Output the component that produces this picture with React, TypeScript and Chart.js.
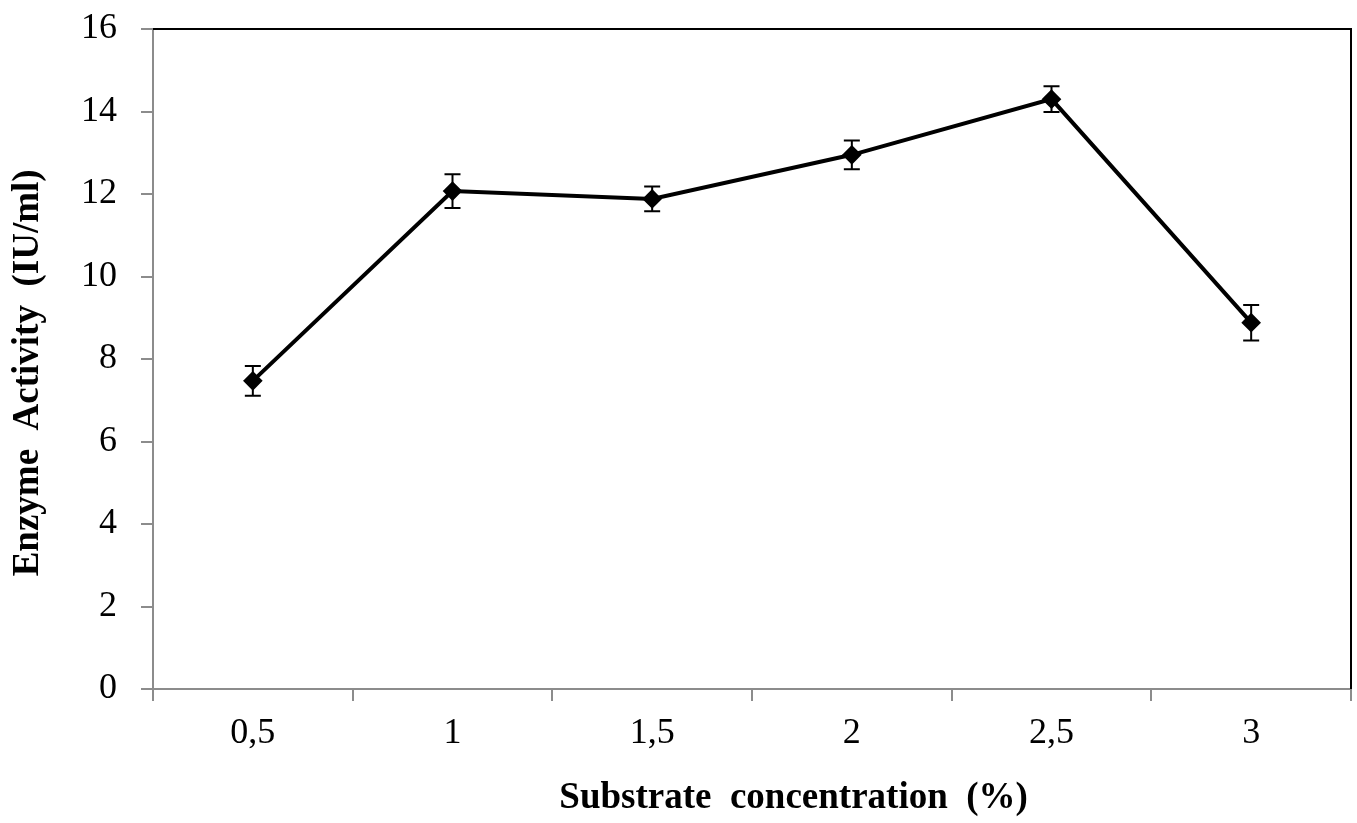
import React, { useEffect, useRef } from "react";
import { Chart, registerables } from "chart.js";

Chart.register(...registerables);

const categories = ["0,5", "1", "1,5", "2", "2,5", "3"];
const activity = [7.47, 12.07, 11.88, 12.95, 14.3, 8.88];
const errors = [0.36, 0.41, 0.3, 0.35, 0.31, 0.43];
const yMin = 0;
const yMax = 16;
const yStep = 2;
const xTitle = "         Substrate  concentration  (%)";
const yTitle = "Enzyme  Activity  (IU/ml)   ";

const FONT = "'Liberation Serif', 'Times New Roman', serif";

const errorBarPlugin = {
  id: "errorBars",
  afterDatasetsDraw(chart: any) {
    const ctx = chart.ctx;
    const xs = chart.scales.x;
    const ys = chart.scales.y;
    ctx.save();
    ctx.strokeStyle = "#000";
    ctx.lineWidth = 2;
    activity.forEach((v, i) => {
      const x = xs.getPixelForValue(i);
      const yt = ys.getPixelForValue(v + errors[i]);
      const yb = ys.getPixelForValue(v - errors[i]);
      ctx.beginPath();
      ctx.moveTo(x, yt);
      ctx.lineTo(x, yb);
      ctx.moveTo(x - 8, yt);
      ctx.lineTo(x + 8, yt);
      ctx.moveTo(x - 8, yb);
      ctx.lineTo(x + 8, yb);
      ctx.stroke();
    });
    ctx.restore();
  },
};

const framePlugin = {
  id: "frame",
  afterDraw(chart: any) {
    const { ctx, chartArea } = chart;
    ctx.save();
    ctx.strokeStyle = "#000";
    ctx.lineWidth = 2;
    ctx.beginPath();
    ctx.moveTo(chartArea.left, chartArea.top);
    ctx.lineTo(chartArea.right, chartArea.top);
    ctx.lineTo(chartArea.right, chartArea.bottom);
    ctx.stroke();
    ctx.restore();
  },
};

export default function App() {
  const ref = useRef<HTMLCanvasElement>(null);
  useEffect(() => {
    document.body.style.margin = "0";
    const chart = new Chart(ref.current as HTMLCanvasElement, {
      type: "line",
      data: {
        labels: categories,
        datasets: [
          {
            data: activity,
            borderColor: "#000",
            backgroundColor: "#000",
            borderWidth: 4,
            pointStyle: "rectRot",
            pointRadius: 7,
            pointBackgroundColor: "#000",
            pointBorderColor: "#000",
            tension: 0,
          },
        ],
      },
      options: {
        responsive: false,
        animation: false,
        layout: { autoPadding: false, padding: { top: 29, right: 6, left: 0, bottom: 0 } },
        plugins: { legend: { display: false }, tooltip: { enabled: false } },
        scales: {
          x: {
            type: "category",
            offset: true,
            afterFit: (s: any) => {
              s.height = 134;
              s.paddingLeft = 0;
              s.paddingRight = 0;
            },
            grid: {
              offset: true,
              drawOnChartArea: false,
              drawTicks: true,
              tickLength: 12,
              color: "#8c8c8c",
              lineWidth: 2,
            },
            border: { color: "#8c8c8c", width: 2 },
            ticks: {
              color: "#000",
              padding: 11,
              font: { family: FONT, size: 36 },
            },
            title: {
              display: true,
              text: xTitle,
              color: "#000",
              font: { family: FONT, size: 37, weight: "bold" },
              padding: { top: 0, bottom: 2 },
            },
          },
          y: {
            min: yMin,
            max: yMax,
            afterFit: (s: any) => {
              s.width = 153;
              s.paddingTop = 0;
              s.paddingBottom = 0;
            },
            grid: {
              drawOnChartArea: false,
              drawTicks: true,
              tickLength: 12,
              color: "#8c8c8c",
              lineWidth: 2,
            },
            border: { color: "#8c8c8c", width: 2 },
            ticks: {
              stepSize: yStep,
              color: "#000",
              padding: 24,
              font: { family: FONT, size: 36 },
            },
            title: {
              display: true,
              text: yTitle,
              color: "#000",
              font: { family: FONT, size: 37, weight: "bold" },
              padding: { top: 6, bottom: 0 },
            },
          },
        },
      },
      plugins: [errorBarPlugin, framePlugin],
    });
    return () => chart.destroy();
  }, []);
  return (
    <div style={{ width: 1357, height: 823 }}>
      <canvas ref={ref} width={1357} height={823} style={{ display: "block" }} />
    </div>
  );
}
